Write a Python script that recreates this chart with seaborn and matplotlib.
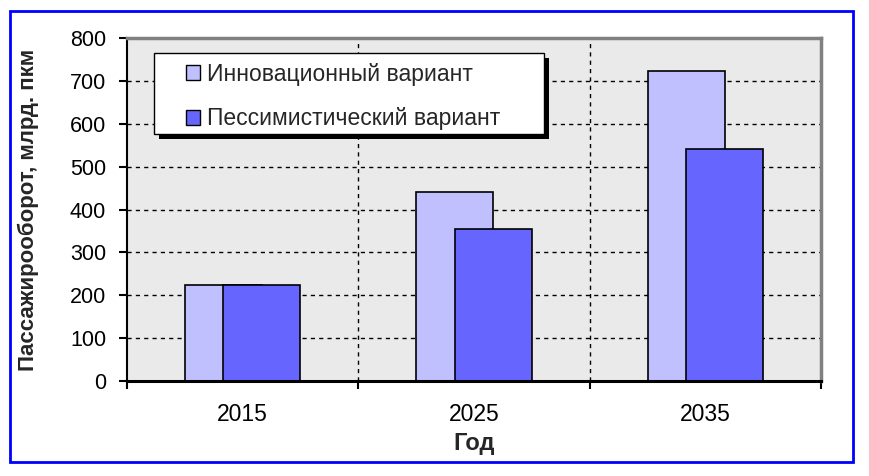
import numpy as np
import pandas as pd
import matplotlib
matplotlib.use("Agg")
import matplotlib.pyplot as plt
import matplotlib.patches as mpatches
import seaborn as sns

# data
years = ["2015", "2025", "2035"]
innovative = [225, 440, 724]
pessimistic = [225, 354, 542]
series_names = ["Инновационный вариант", "Пессимистический вариант"]
colors = ["#C0C0FF", "#6666FF"]

sns.set_theme(style="white")
plt.rcParams["font.family"] = ["Liberation Sans", "DejaVu Sans"]

fig = plt.figure(figsize=(8.7, 4.76), dpi=100)
ax = fig.add_axes([127 / 870, 1 - 381 / 476, 694 / 870, 343 / 476])
ax.set_facecolor("#EAEAEA")

pos = np.arange(len(years))
shift = 0.083
bar_w = 0.333
df = pd.DataFrame({"pos": np.concatenate([pos - shift, pos + shift]),
                   "value": innovative + pessimistic,
                   "series": [series_names[0]] * 3 + [series_names[1]] * 3})

for name, col in zip(series_names, colors):
    sub = df[df["series"] == name]
    sns.barplot(data=sub, x="pos", y="value", native_scale=True, width=bar_w,
                color=col, saturation=1, edgecolor="black", linewidth=1.2,
                errorbar=None, ax=ax, zorder=3)

ax.set_xlim(-0.5, len(years) - 0.5)
ax.set_ylim(0, 800)
ax.set_xticks(pos)
ax.set_xticklabels(years)
ax.set_xticks(np.arange(-0.5, len(years)), minor=True)
ax.set_yticks(range(0, 801, 100))
ax.tick_params(axis="x", which="major", length=0, pad=16, labelsize=16.5, colors="black")
ax.tick_params(axis="x", which="minor", length=6, width=1.5, direction="out", color="black", bottom=True)
ax.tick_params(axis="y", length=6, width=1.5, direction="out", pad=9, labelsize=15.5, colors="black", left=True)

# dashed grid like the spreadsheet original
for y in range(100, 800, 100):
    ax.axhline(y, color="black", lw=1, ls=(0, (3, 3)), zorder=1)
for x in np.arange(0.5, len(years) - 1):
    ax.axvline(x, color="black", lw=1, ls=(0, (3, 3)), zorder=1)

for side in ["top", "right"]:
    ax.spines[side].set_color("#808080")
    ax.spines[side].set_linewidth(2.5)
ax.spines["left"].set_color("black")
ax.spines["left"].set_linewidth(1.5)
ax.spines["bottom"].set_color("black")
ax.spines["bottom"].set_linewidth(2.2)
for s in ax.spines.values():
    s.set_zorder(4)

ax.set_xlabel("Год", fontsize=17, fontweight="bold", va="top")
ax.xaxis.set_label_coords(0.5, -0.15)
ax.set_ylabel("Пассажирооборот, млрд. пкм", fontsize=16, fontweight="bold")
ax.yaxis.set_label_coords(-0.127, 0.5)

# legend box with hard black shadow
bx, by, bw, bh = 0.039, 0.72, 0.562, 0.236
ax.add_patch(mpatches.Rectangle((bx + 5 / 694, by - 5 / 343), bw, bh, transform=ax.transAxes,
                                facecolor="black", edgecolor="none", zorder=5))
ax.add_patch(mpatches.Rectangle((bx, by), bw, bh, transform=ax.transAxes,
                                facecolor="white", edgecolor="black", lw=1, zorder=6))
handles = [mpatches.Patch(facecolor=c, edgecolor="black", lw=1) for c in colors]
leg = ax.legend(handles, series_names, loc="center left",
                bbox_to_anchor=(bx + 20 / 694, by + bh / 2 - 3 / 343), frameon=False,
                fontsize=16.5, handlelength=0.63, handleheight=0.63,
                handletextpad=0.32, labelspacing=0.95, borderpad=0)
leg.set_zorder(7)

# blue outer border
fig.add_artist(mpatches.Rectangle((10 / 870, 1 - 462 / 476), 843 / 870, 451 / 476,
                                  transform=fig.transFigure, fill=False,
                                  edgecolor="#0000FF", lw=2))

fig.savefig("out.png", dpi=100)
